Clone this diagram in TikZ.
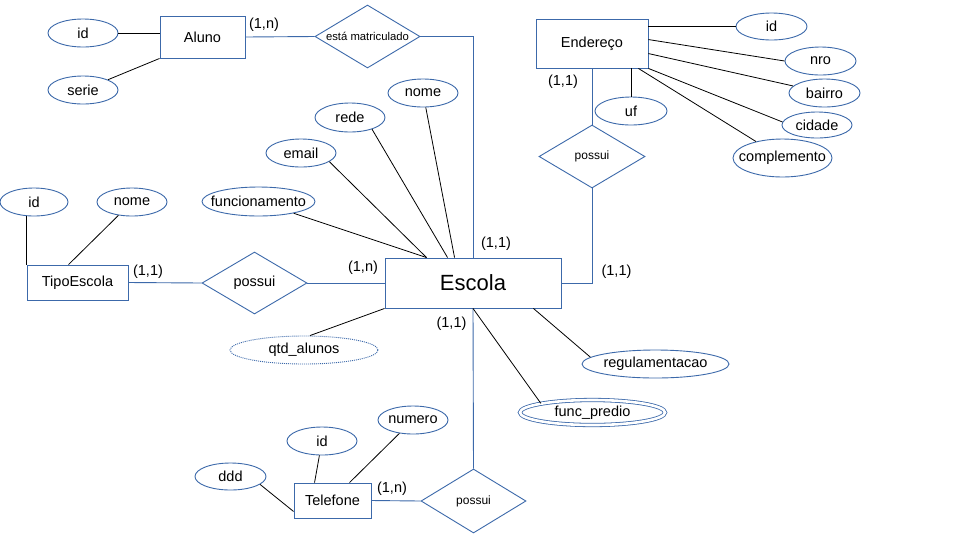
\documentclass[tikz,border=0pt]{standalone}
\usepackage{fontspec}
\setmainfont{Liberation Sans}
\usetikzlibrary{shapes.geometric}
\definecolor{ebl}{RGB}{60,105,170}
\newcommand{\zb}[1]{\makebox[0pt]{#1}}
\begin{document}
\begin{tikzpicture}[x=1pt,y=-1pt,
  ent/.style={draw=ebl,line width=0.9pt,rectangle,inner sep=0pt,font=\fontsize{14.5}{17}\selectfont},
  attr/.style={draw=ebl,line width=0.9pt,ellipse,inner sep=0pt,font=\fontsize{14.5}{17}\selectfont},
  rel/.style={draw=ebl,line width=0.9pt,diamond,inner sep=0pt,minimum width=105pt,minimum height=63pt},
  rl/.style={draw=ebl,line width=0.9pt},
  al/.style={draw=black,line width=0.8pt},
  card/.style={inner sep=0pt,font=\fontsize{14.5}{17}\selectfont}
]
\useasboundingbox (0,0) rectangle (977,550);
\fill[white] (0,0) rectangle (977,550);

% entities
\node[ent,minimum width=85pt,minimum height=42pt] (aluno) at (202.5,37) {Aluno};
\node[ent,minimum width=112pt,minimum height=49pt] (endereco) at (592,43.5) {Endereço};
\node[ent,minimum width=176pt,minimum height=50pt,font=\fontsize{22}{26}\selectfont] (escola) at (473,283) {Escola};
\node[ent,minimum width=101pt,minimum height=35pt] (tipo) at (77.5,282.5) {TipoEscola};
\node[ent,minimum width=77pt,minimum height=35pt] (tel) at (332.5,500.5) {Telefone};

% relationships
\node[rel,font=\fontsize{11.3}{13}\selectfont] (mat) at (367.5,36.5) {\zb{está matriculado}};
\node[rel,minimum width=106pt,font=\fontsize{12}{14}\selectfont] (poss2) at (592,156.5) {\zb{possui}};
\node[rel,minimum height=62pt,font=\fontsize{14.5}{17}\selectfont] (poss1) at (254.5,283) {\zb{possui}};
\node[rel,minimum height=64pt,font=\fontsize{12}{14}\selectfont] (poss3) at (473.5,501) {\zb{possui}};

% attributes of Aluno
\node[attr,minimum width=70pt,minimum height=28pt] (idA) at (83,33) {\zb{id}};
\node[attr,minimum width=70pt,minimum height=28pt] (serie) at (83,90) {\zb{serie}};

% attributes of Endereco
\node[attr,minimum width=71pt,minimum height=27pt] (idE) at (771.5,26.5) {\zb{id}};
\node[attr,minimum width=71pt,minimum height=28pt] (nro) at (820.5,61) {\zb{nro}};
\node[attr,minimum width=71pt,minimum height=28pt] (bairro) at (824.5,93) {\zb{bairro}};
\node[attr,minimum width=70pt,minimum height=26pt] (cidade) at (817,125) {\zb{cidade}};
\node[attr,minimum width=99pt,minimum height=38pt] (compl) at (782.5,158) {\zb{complemento}};
\node[attr,minimum width=72pt,minimum height=28pt] (uf) at (631,111) {\zb{uf}};

% attributes of Escola
\node[attr,minimum width=70pt,minimum height=28pt] (nome) at (423,93) {\zb{nome}};
\node[attr,minimum width=70pt,minimum height=29pt] (rede) at (350,117.5) {\zb{rede}};
\node[attr,minimum width=70pt,minimum height=28pt] (email) at (301,153) {\zb{email}};
\node[attr,minimum width=113pt,minimum height=29pt] (func) at (258.5,201.5) {\zb{funcionamento}};
\node[attr,minimum width=148pt,minimum height=28pt,dash pattern=on 1pt off 1pt] (qtd) at (304,350) {\zb{qtd\_alunos}};
\node[attr,minimum width=147pt,minimum height=28pt] (regul) at (655.5,364) {\zb{regulamentacao}};
\node[attr,line width=0.8pt,double=white,double distance=2.6pt,minimum width=145pt,minimum height=25pt] (fp) at (592.5,412.5) {\zb{func\_predio}};

% attributes of TipoEscola
\node[attr,minimum width=68pt,minimum height=28pt] (idT) at (34,202) {\zb{id}};
\node[attr,minimum width=70pt,minimum height=28pt] (nomeT) at (132,202) {\zb{nome}};

% attributes of Telefone
\node[attr,minimum width=71pt,minimum height=27pt] (ddd) at (230.5,476.5) {\zb{ddd}};
\node[attr,minimum width=70pt,minimum height=28pt] (idTel) at (322,441) {\zb{id}};
\node[attr,minimum width=70pt,minimum height=28pt] (numero) at (413,420) {\zb{numero}};

% cardinalities
\node[card] (c1) at (264,25) {(1,n)};
\node[card] (c2) at (563,82) {(1,1)};
\node[card] (c3) at (496,243.5) {(1,1)};
\node[card] (c4) at (616.5,271.5) {(1,1)};
\node[card] (c5) at (451.5,323.5) {(1,1)};
\node[card] (c6) at (148,271.5) {(1,1)};
\node[card] (c7) at (363,268) {(1,n)};
\node[card] (c8) at (392,489) {(1,n)};

% relationship lines
\draw[rl] (aluno.east) -- (mat.west);
\draw[rl] (mat.east) -| (escola.north);
\draw[rl] (endereco.south) -- (poss2.north);
\draw[rl] (poss2.south) |- (escola.east);
\draw[rl] (tipo.east) -- (poss1.west);
\draw[rl] (poss1.east) -- (escola.west);
\draw[rl] (escola.south) -- (poss3.north);
\draw[rl] (poss3.west) -- (tel.east);

% attribute lines
\draw[al] (idA.east) -- (aluno.west |- idA.east);
\draw[al] (serie) -- (aluno.south west);

\draw[al] (idE.west) -- (endereco.east |- idE.west);
\draw[al] (nro.west) -- ([yshift=-21pt]endereco.north east);
\draw[al] (bairro) -- ([yshift=-35pt]endereco.north east);
\draw[al] (cidade.175) -- (endereco.south east);
\draw[al] (compl) -- ([xshift=-10pt]endereco.south east);
\draw[al] (uf.north) -- (uf.north |- endereco.south);

\draw[al] (nome) -- ([xshift=70pt]escola.north west);
\draw[al] (rede.-28) -- ([xshift=63pt]escola.north west);
\draw[al] (email.-17) -- ([xshift=42pt]escola.north west);
\draw[al] (func) -- ([xshift=42pt]escola.north west);
\draw[al] ([xshift=6pt]qtd.north) -- (escola.south west);
\draw[al] (regul.174) -- ([xshift=-28pt]escola.south east);
\draw[al] (fp.170) -- (escola.south);

\draw[al] (tipo.north west) -- (tipo.north west |- idT.south);
\draw[al] (nomeT) -- ([xshift=42pt]tipo.north west);

\draw[al] (ddd.-15) -- ([yshift=7pt]tel.south west);
\draw[al] (idTel) -- ([xshift=21pt]tel.north west);
\draw[al] (numero) -- ([xshift=56pt]tel.north west);
\end{tikzpicture}
\end{document}
